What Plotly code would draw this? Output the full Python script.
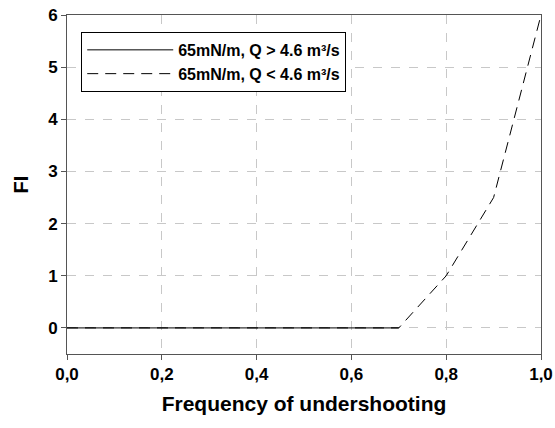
import plotly.graph_objects as go

x_high = [0.0, 0.1, 0.2, 0.3, 0.4, 0.5, 0.6, 0.7]
fi_high = [0, 0, 0, 0, 0, 0, 0, 0]

x_low = [0.0, 0.1, 0.2, 0.3, 0.4, 0.5, 0.6, 0.7, 0.8, 0.9, 1.0]
fi_low = [0, 0, 0, 0, 0, 0, 0, 0, 1.0, 2.5, 6.0]

name_high = "65mN/m, Q > 4.6 m³/s"
name_low = "65mN/m, Q < 4.6 m³/s"

x_ticks = [0.0, 0.2, 0.4, 0.6, 0.8, 1.0]
x_ticklabels = ["0,0", "0,2", "0,4", "0,6", "0,8", "1,0"]
y_ticks = [0, 1, 2, 3, 4, 5, 6]

b = lambda s: "<b>" + s + "</b>"

fig = go.Figure()
fig.add_trace(go.Scatter(x=x_high, y=fi_high, mode="lines", name=b(name_high),
                         line=dict(color="black", width=1)))
fig.add_trace(go.Scatter(x=x_low, y=fi_low, mode="lines", name=b(name_low),
                         line=dict(color="black", width=1, dash="11px,7px")))

font = "Liberation Sans, Arial, sans-serif"
fig.update_layout(
    width=555, height=428,
    margin=dict(l=67, r=14, t=15, b=74),
    paper_bgcolor="white", plot_bgcolor="white",
    font=dict(family=font, color="black"),
    showlegend=True,
    legend=dict(x=0.03, y=0.95, xanchor="left", yanchor="top",
                bordercolor="black", borderwidth=1, bgcolor="white",
                font=dict(size=16, family=font, color="black"),
                itemwidth=86, tracegroupgap=0),
    xaxis=dict(range=[0, 1], tickvals=x_ticks, ticktext=[b(t) for t in x_ticklabels],
               showgrid=True, gridcolor="#c8c8c8", griddash="dash", gridwidth=1,
               showline=True, linecolor="#555555", linewidth=1, mirror=True,
               ticks="outside", ticklen=5, tickcolor="#555555",
               tickfont=dict(size=17),
               title=dict(text=b("Frequency of undershooting"), font=dict(size=21), standoff=12),
               zeroline=False, automargin=False),
    yaxis=dict(range=[-0.5, 6], tickvals=y_ticks, ticktext=[b(str(v)) for v in y_ticks],
               showgrid=True, gridcolor="#c8c8c8", griddash="dash", gridwidth=1,
               showline=True, linecolor="#555555", linewidth=1, mirror=True,
               ticks="outside", ticklen=5, tickcolor="#555555",
               tickfont=dict(size=17),
               title=dict(text=b("FI"), font=dict(size=20), standoff=14),
               zeroline=False, automargin=False),
)
fig.write_html("out.html")
